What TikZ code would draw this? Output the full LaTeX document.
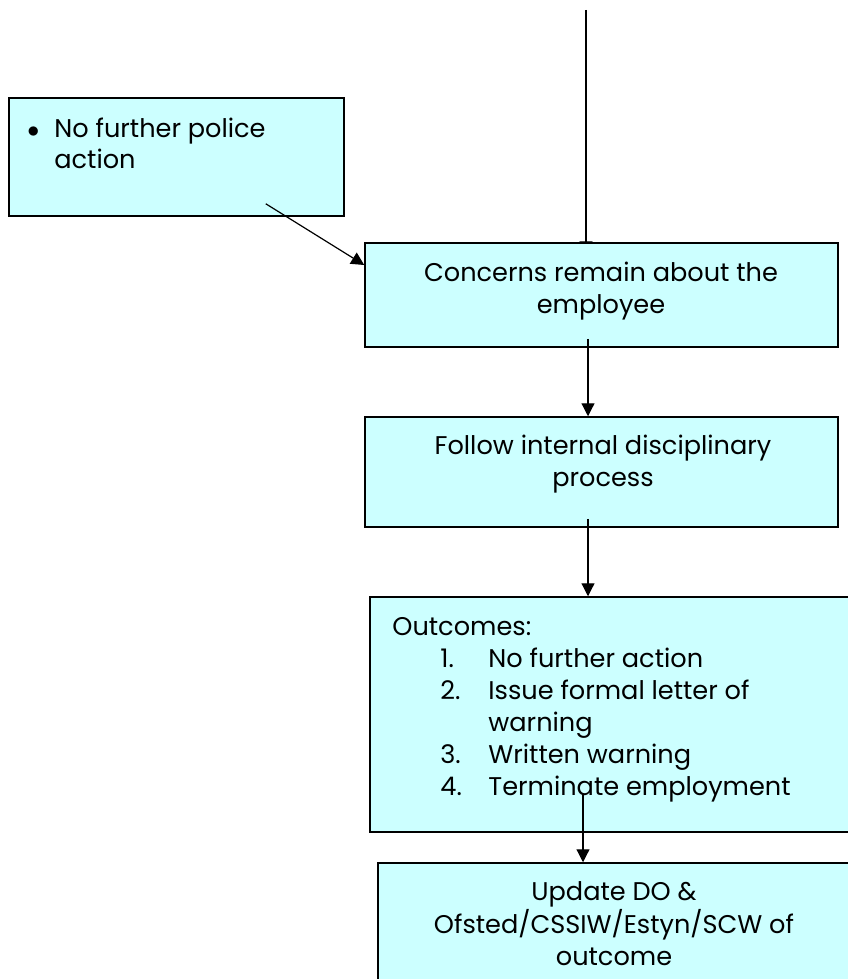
\documentclass[tikz,border=0pt]{standalone}
\usepackage{fontspec}
\setmainfont{Poppins}
\usetikzlibrary{arrows.meta,positioning,calc,backgrounds}
\definecolor{boxcyan}{HTML}{CCFFFF}
\tikzset{
  box/.style={draw=black, fill=boxcyan, line width=0.75pt, inner sep=0pt},
  txt/.style={inner sep=0pt, font=\fontsize{12.8}{16}\selectfont},
  arr/.style={-{Triangle[length=6.5pt,width=6.5pt]}, line width=0.6pt}
}

\begin{document}
\begin{tikzpicture}[x=0.5pt,y=-0.5pt]
          \useasboundingbox (0,0) rectangle (847,979);
          \coordinate (top) at (586,10);

          % boxes
          \node[box, minimum width=167.5pt, minimum height=59pt] (police) at (176.5,157) {};
          \node[box, minimum width=236.5pt, minimum height=52pt] (concern) at (601.5,295) {};
          \node[box, minimum width=236.5pt, minimum height=55pt] (follow) at (601.5,472) {};
          \node[box, minimum width=240pt, minimum height=117.5pt] (outcomes) at (610,714.5) {};
          \node[box, minimum width=236pt, minimum height=63.5pt] (update) at (614,926.5) {};

          % texts
          \node[txt, anchor=base west] (policetxt) at (27,137)
            {\begin{tabular}[t]{@{}p{13.5pt}@{}l@{}}$\bullet$ & No further police\\ & action\end{tabular}};
          \node[txt, anchor=base] (concerntxt) at (601,281)
            {\begin{tabular}[t]{@{}c@{}}Concerns remain about the\\employee\end{tabular}};
          \node[txt, anchor=base] (followtxt) at (603,454)
            {\begin{tabular}[t]{@{}c@{}}Follow internal disciplinary\\process\end{tabular}};
          \node[txt, anchor=base west] (outcomestxt) at (392,635)
            {\begin{tabular}[t]{@{}l@{}}Outcomes:\\
             \hspace*{24pt}\makebox[24pt][l]{1.}No further action\\
             \hspace*{24pt}\makebox[24pt][l]{2.}Issue formal letter of\\
             \hspace*{48pt}warning\\
             \hspace*{24pt}\makebox[24pt][l]{3.}Written warning\\
             \hspace*{24pt}\makebox[24pt][l]{4.}Terminate employment\end{tabular}};
          \node[txt, anchor=base] (updatetxt) at (614,900)
            {\begin{tabular}[t]{@{}c@{}}Update DO \&\\Ofsted/CSSIW/Estyn/SCW of\\outcome\end{tabular}};

          % connectors
          \begin{scope}[on background layer]
            \draw[arr] (top) -- ($(top |- concern.north)+(0,12)$);
          \end{scope}
          \draw[arr] ([shift={(-79,-13)}]police.south east) -- ([shift={(0,-30)}]concern.west);
          \draw[arr] ([shift={(-13.5,-9)}]concern.south) -- ([shift={(-13.5,0)}]follow.north);
          \draw[arr] ([shift={(-13.5,-9)}]follow.south) -- ([shift={(-22,0)}]outcomes.north);
          \draw[arr] ([shift={(-27,-39)}]outcomes.south) -- ([shift={(-31,0)}]update.north);
        \end{tikzpicture}
\end{document}
